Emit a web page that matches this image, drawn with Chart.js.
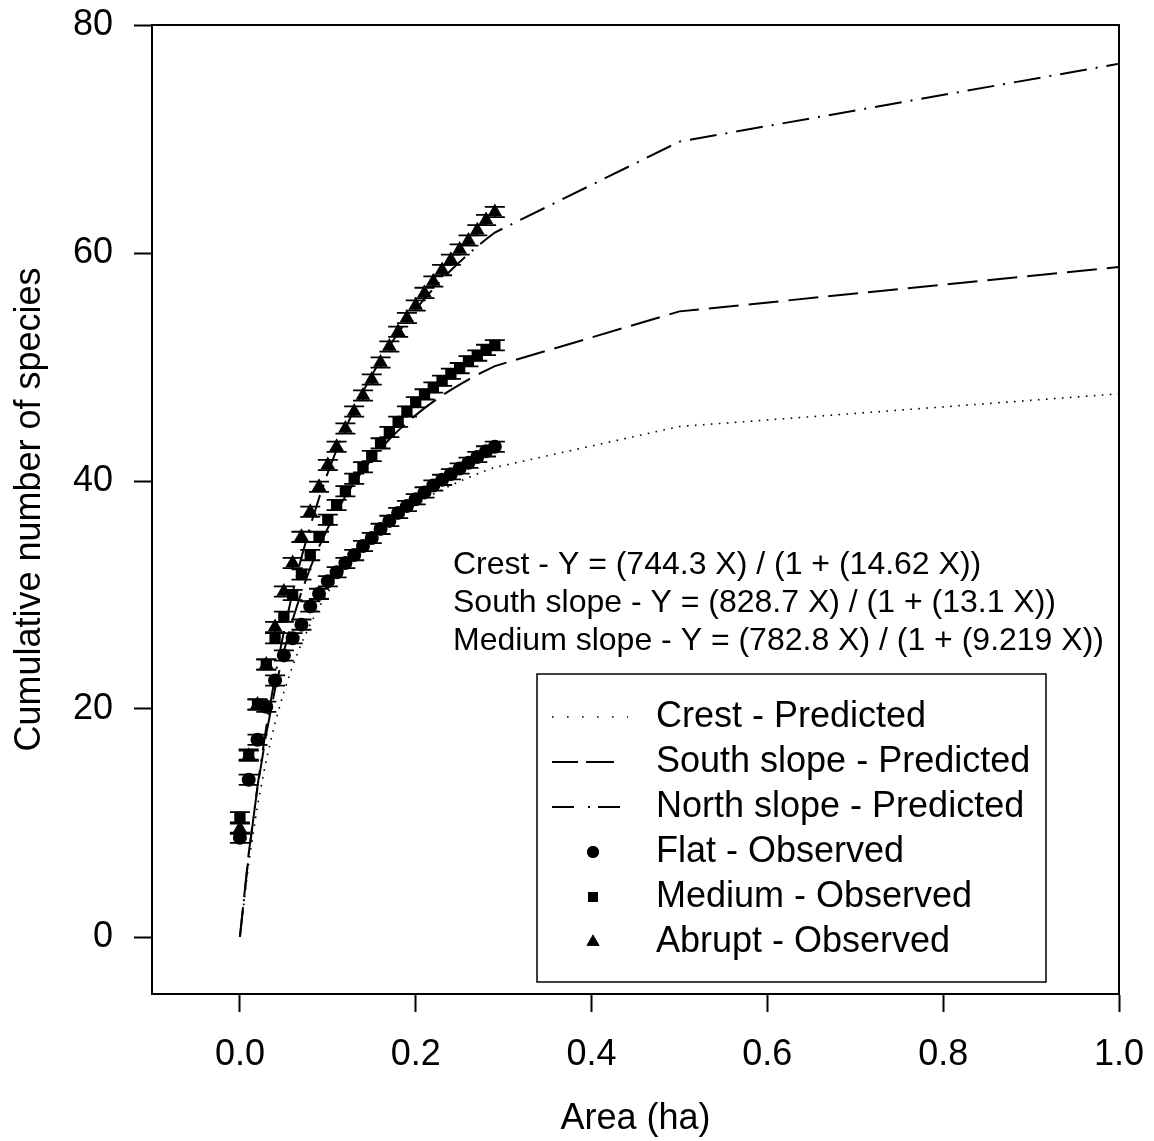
<!DOCTYPE html>
<html>
<head>
<meta charset="utf-8">
<script src="https://cdn.jsdelivr.net/npm/chart.js@4/dist/chart.umd.min.js"></script>
<style>
  html, body { margin: 0; padding: 0; background: #ffffff; }
  #wrap { width: 1154px; height: 1141px; }
</style>
</head>
<body>
<div id="wrap"><canvas id="c" width="1154" height="1141"></canvas></div>
<script>
// Sampling area (ha) of the fitted Michaelis-Menten curves
const predX = [0, 0.01, 0.02, 0.03, 0.04, 0.05, 0.06, 0.07, 0.08, 0.09,
               0.10, 0.11, 0.12, 0.13, 0.14, 0.15, 0.16, 0.17, 0.18, 0.19,
               0.20, 0.21, 0.22, 0.23, 0.24, 0.25, 0.26, 0.27, 0.28, 0.29,
               0.5, 1.0];
// Predicted species counts at predX
const crestPred = [0, 6.49, 11.52, 15.52, 18.79, 21.50, 23.79, 25.75, 27.44, 28.93,
                   30.23, 31.39, 32.43, 33.36, 34.20, 34.97, 35.66, 36.30, 36.89, 37.43,
                   37.94, 38.40, 38.84, 39.24, 39.62, 39.97, 40.31, 40.62, 40.92, 41.19,
                   44.78, 47.65];
const southPred = [0, 7.33, 13.13, 17.85, 21.75, 25.04, 27.84, 30.26, 32.37, 34.23,
                   35.87, 37.34, 38.66, 39.86, 40.94, 41.92, 42.83, 43.66, 44.42, 45.13,
                   45.78, 46.39, 46.96, 47.50, 47.99, 48.46, 48.90, 49.32, 49.71, 50.08,
                   54.88, 58.77];
const northPred = [0, 7.17, 13.22, 18.40, 22.88, 26.79, 30.24, 33.30, 36.04, 38.50,
                   40.73, 42.75, 44.60, 46.29, 47.84, 49.28, 50.60, 51.84, 52.98, 54.05,
                   55.05, 55.99, 56.87, 57.70, 58.48, 59.22, 59.91, 60.58, 61.20, 61.80,
                   69.77, 76.60];

// Cumulative observed species per sampled area
const obsX = [0, 0.01, 0.02, 0.03, 0.04, 0.05, 0.06, 0.07, 0.08, 0.09,
              0.10, 0.11, 0.12, 0.13, 0.14, 0.15, 0.16, 0.17, 0.18, 0.19,
              0.20, 0.21, 0.22, 0.23, 0.24, 0.25, 0.26, 0.27, 0.28, 0.29];
const flatObs = [8.7, 13.8, 17.3, 20.2, 22.5, 24.7, 26.2, 27.4, 29.0, 30.1,
                 31.2, 32.0, 32.8, 33.5, 34.3, 35.0, 35.8, 36.5, 37.2, 37.8,
                 38.4, 39.0, 39.6, 40.1, 40.6, 41.1, 41.6, 42.1, 42.6, 43.0];
const mediumObs = [10.5, 16.0, 20.4, 23.9, 26.2, 28.1, 30.0, 31.8, 33.5, 35.1,
                   36.6, 37.9, 39.1, 40.2, 41.2, 42.2, 43.3, 44.3, 45.2, 46.1,
                   46.9, 47.6, 48.2, 48.8, 49.4, 49.9, 50.5, 51.0, 51.5, 51.9];
const abruptObs = [9.5, 15.9, 20.4, 23.9, 27.2, 30.3, 32.8, 35.1, 37.3, 39.5,
                   41.4, 43.0, 44.6, 46.1, 47.5, 48.9, 50.4, 51.8, 53.1, 54.3,
                   55.4, 56.5, 57.5, 58.5, 59.4, 60.3, 61.1, 62.0, 62.9, 63.6];
// Standard error of the observed means
const flatSE = 0.45;
const mediumSE = 0.45;
const abruptSE = 0.45;

const xTicks = [0, 0.2, 0.4, 0.6, 0.8, 1.0];
const xTickLabels = ['0.0', '0.2', '0.4', '0.6', '0.8', '1.0'];
const yTicks = [0, 20, 40, 60, 80];
const yTickLabels = ['0', '20', '40', '60', '80'];

const equations = [
  'Crest - Y = (744.3 X) / (1 + (14.62 X))',
  'South slope - Y = (828.7 X) / (1 + (13.1 X))',
  'Medium slope - Y = (782.8 X) / (1 + (9.219 X))'
];
const legendLabels = [
  'Crest - Predicted',
  'South slope - Predicted',
  'North slope - Predicted',
  'Flat - Observed',
  'Medium - Observed',
  'Abrupt - Observed'
];

const FONT = '"Liberation Sans", Arial, Helvetica, sans-serif';
const INK = '#000000';
const pts = (xs, ys) => xs.map((x, i) => ({ x: x, y: ys[i] }));

// Vertical error bars with caps under each observed marker
const errorBars = {
  id: 'errorBars',
  beforeDatasetsDraw(chart) {
    const ctx = chart.ctx;
    const ys = chart.scales.y;
    ctx.save();
    ctx.strokeStyle = INK;
    ctx.lineWidth = 1.8;
    chart.data.datasets.forEach((ds, di) => {
      if (ds.se === undefined) return;
      const meta = chart.getDatasetMeta(di);
      meta.data.forEach((el, i) => {
        const v = ds.data[i].y;
        const top = ys.getPixelForValue(v + ds.se);
        const bot = ys.getPixelForValue(v - ds.se);
        const x = el.x;
        ctx.beginPath();
        ctx.moveTo(x, top); ctx.lineTo(x, bot);
        ctx.moveTo(x - 10, top); ctx.lineTo(x + 10, top);
        ctx.moveTo(x - 10, bot); ctx.lineTo(x + 10, bot);
        ctx.stroke();
      });
    });
    ctx.restore();
  }
};

// Closed frame, regression equations and the boxed key
const annotations = {
  id: 'annotations',
  afterDraw(chart) {
    const ctx = chart.ctx;
    const ca = chart.chartArea;
    ctx.save();

    ctx.strokeStyle = INK;
    ctx.lineWidth = 2;
    ctx.strokeRect(ca.left, ca.top, ca.right - ca.left, ca.bottom - ca.top);

    ctx.fillStyle = INK;
    ctx.textAlign = 'left';
    ctx.textBaseline = 'middle';
    ctx.font = '32px ' + FONT;
    equations.forEach((t, i) => {
      ctx.fillText(t, ca.left + 301, ca.top + 540 + i * 38);
    });

    const bx = ca.left + 385, by = ca.top + 649, bw = 509, bh = 308;
    ctx.lineWidth = 1.5;
    ctx.strokeRect(bx, by, bw, bh);

    const rowY0 = by + 43, rowStep = 45;
    const sampleL = bx + 15, sampleR = bx + 91, markX = bx + 56, textX = bx + 119;
    ctx.font = '36px ' + FONT;
    // dataset index shown on each key row, top to bottom
    const order = [2, 1, 0, 3, 4, 5];
    order.forEach((di, row) => {
      const ds = chart.data.datasets[di];
      const y = rowY0 + row * rowStep;
      if (ds.showLine) {
        ctx.save();
        ctx.strokeStyle = INK;
        ctx.lineWidth = ds.borderWidth;
        ctx.setLineDash(ds.legendDash || ds.borderDash || []);
        ctx.beginPath();
        ctx.moveTo(sampleL, y);
        ctx.lineTo(sampleR, y);
        ctx.stroke();
        ctx.restore();
      } else {
        ctx.save();
        ctx.fillStyle = INK;
        ctx.strokeStyle = INK;
        Chart.helpers.drawPoint(ctx, {
          pointStyle: ds.pointStyle,
          radius: ds.legendRadius,
          rotation: 0,
          borderWidth: 0
        }, markX, y);
        ctx.fill();
        ctx.restore();
      }
      ctx.fillStyle = INK;
      ctx.fillText(ds.label, textX, y);
    });
    ctx.restore();
  }
};

const tickFont = { family: FONT, size: 36 };

new Chart(document.getElementById('c'), {
  type: 'scatter',
  data: {
    datasets: [
      { label: legendLabels[2], data: pts(predX, northPred), showLine: true,
        borderColor: INK, borderWidth: 2, borderDash: [27, 9, 2, 9],
        legendDash: [22, 14, 2, 8], pointRadius: 0, tension: 0, fill: false },
      { label: legendLabels[1], data: pts(predX, southPred), showLine: true,
        borderColor: INK, borderWidth: 2, borderDash: [30, 10],
        legendDash: [26, 8, 28, 16], pointRadius: 0, tension: 0, fill: false },
      { label: legendLabels[0], data: pts(predX, crestPred), showLine: true,
        borderColor: INK, borderWidth: 1.6, borderDash: [1.6, 6.4],
        legendDash: [1.6, 13.4], pointRadius: 0, tension: 0, fill: false },
      { label: legendLabels[3], data: pts(obsX, flatObs), showLine: false,
        pointStyle: 'circle', pointRadius: 7, legendRadius: 6,
        backgroundColor: INK, borderColor: INK, borderWidth: 0, se: flatSE },
      { label: legendLabels[4], data: pts(obsX, mediumObs), showLine: false,
        pointStyle: 'rect', pointRadius: 8, legendRadius: 7,
        backgroundColor: INK, borderColor: INK, borderWidth: 0, se: mediumSE },
      { label: legendLabels[5], data: pts(obsX, abruptObs), showLine: false,
        pointStyle: 'triangle', pointRadius: 8.5, legendRadius: 7.5,
        backgroundColor: INK, borderColor: INK, borderWidth: 0, se: abruptSE }
    ]
  },
  options: {
    responsive: false,
    animation: false,
    devicePixelRatio: 1,
    layout: { padding: { top: 25, right: 35, bottom: 0, left: 0 } },
    plugins: {
      legend: { display: false },
      tooltip: { enabled: false }
    },
    scales: {
      x: {
        type: 'linear',
        min: -0.1,
        max: 1.0,
        afterBuildTicks: (s) => { s.ticks = xTicks.map(v => ({ value: v })); },
        afterFit: (s) => { s.height = 147; s.paddingLeft = 0; s.paddingRight = 0; },
        ticks: {
          autoSkip: false, maxRotation: 0, padding: 21, color: INK, font: tickFont,
          callback: (v) => xTickLabels[xTicks.indexOf(v)]
        },
        grid: { drawOnChartArea: false, drawTicks: true, tickLength: 18,
                tickColor: INK, tickWidth: 2 },
        border: { display: true, color: INK, width: 2 },
        title: { display: true, text: 'Area (ha)', color: INK,
                 font: { family: FONT, size: 36 }, padding: { top: 0, bottom: 0 } }
      },
      y: {
        type: 'linear',
        min: -5,
        max: 80,
        afterBuildTicks: (s) => { s.ticks = yTicks.map(v => ({ value: v })); },
        afterFit: (s) => { s.width = 152; s.paddingTop = 0; s.paddingBottom = 0; },
        ticks: {
          autoSkip: false, padding: 21, color: INK, font: tickFont,
          callback: (v) => yTickLabels[yTicks.indexOf(v)]
        },
        grid: { drawOnChartArea: false, drawTicks: true, tickLength: 18,
                tickColor: INK, tickWidth: 2 },
        border: { display: true, color: INK, width: 2 },
        title: { display: true, text: 'Cumulative number of species', color: INK,
                 font: { family: FONT, size: 36 }, padding: { top: 8, bottom: 0 } }
      }
    }
  },
  plugins: [errorBars, annotations]
});
</script>
</body>
</html>
